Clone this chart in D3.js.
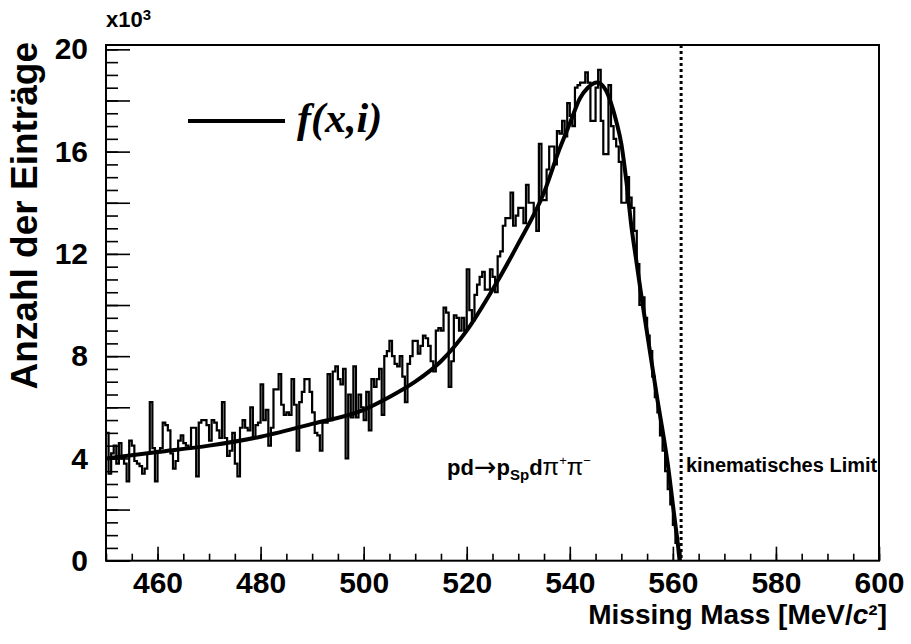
<!DOCTYPE html>
<html><head>
<meta charset="utf-8">
<script src="https://d3js.org/d3.v7.min.js"></script>
<style>
  body { margin: 0; background: #fff; }
  text { font-family: "Liberation Sans", Arial, sans-serif; font-weight: bold; fill: #000; }
</style>
</head>
<body>
<svg id="chart" width="911" height="644"></svg>
<script>
// histogram: 0.5 MeV bins starting at 450 MeV, counts in units of 10^3
const binStart = 450;
const binWidth = 0.5;
const counts = [
  5.0, 3.4, 4.2, 4.5, 3.8, 4.6, 4.0, 3.8, 3.1, 4.7,
  4.5, 3.9, 3.8, 3.7, 3.4, 3.6, 4.2, 6.2, 4.4, 3.1,
  4.3, 4.4, 5.4, 5.3, 5.1, 4.2, 3.6, 3.9, 4.7, 4.9,
  4.6, 4.5, 4.4, 5.2, 5.2, 3.3, 5.4, 5.5, 5.5, 5.3,
  4.7, 5.5, 5.4, 5.1, 4.8, 6.2, 4.8, 4.1, 4.3, 5.0,
  3.8, 3.3, 5.2, 5.5, 5.2, 5.1, 6.0, 4.8, 5.3, 5.4,
  6.9, 5.5, 5.9, 4.5, 5.2, 6.7, 6.7, 7.3, 6.1, 5.7,
  5.8, 5.7, 7.1, 6.1, 4.3, 6.2, 6.6, 7.1, 7.1, 6.6,
  5.8, 5.0, 4.9, 4.3, 5.4, 5.4, 7.3, 5.5, 7.4, 7.6,
  7.1, 6.9, 7.5, 4.0, 6.5, 5.6, 7.6, 5.6, 6.5, 6.0,
  5.5, 6.6, 5.1, 7.1, 6.8, 7.1, 7.5, 5.7, 8.0, 8.2,
  8.6, 8.0, 7.7, 7.6, 8.0, 7.2, 6.2, 7.7, 8.0, 8.6,
  8.6, 8.1, 8.4, 8.8, 8.7, 8.4, 7.8, 7.4, 9.0, 9.1,
  9.0, 9.9, 9.7, 6.8, 7.8, 9.6, 9.5, 9.0, 9.5, 9.0,
  11.4, 9.8, 9.4, 10.4, 10.8, 11.1, 11.3, 10.6, 10.6, 11.4,
  11.1, 10.5, 11.9, 12.1, 13.1, 13.4, 13.4, 14.4, 13.1, 13.5,
  13.8, 13.8, 13.2, 14.7, 14.0, 14.0, 13.6, 12.9, 16.3, 14.1,
  14.1, 15.3, 16.2, 16.2, 15.5, 16.8, 16.7, 17.2, 16.6, 17.9,
  17.4, 17.0, 18.5, 18.6, 18.7, 18.7, 19.1, 18.7, 17.2, 17.2,
  18.5, 19.2, 17.2, 15.9, 15.9, 18.6, 17.0, 16.5, 16.2, 15.6,
  14.0, 14.0, 15.0, 14.2, 13.8, 12.9, 11.6, 10.0, 10.3, 9.5,
  8.8, 8.2, 7.2, 6.4, 5.8, 4.9, 4.3, 3.5, 2.8, 2.2,
  1.4, 0.7, 0.3
];

// fit curve f(x,i)
const fitMass = [450, 460, 470, 480, 490, 500, 505, 510, 515, 520, 525, 530, 535, 538, 540, 542, 543.5, 545.3, 547, 548, 549, 550, 551, 552, 553, 554, 555, 556, 557, 558, 559, 560, 560.5, 561, 561.3];
const fitValue = [4.0, 4.25, 4.5, 4.85, 5.35, 5.9, 6.4, 7.0, 7.8, 9.0, 10.6, 12.4, 14.4, 16.1, 17.1, 18.1, 18.5, 18.7, 18.4, 17.9, 17.2, 16.3, 14.8, 13.0, 11.6, 10.2, 8.9, 7.6, 6.3, 5.1, 3.8, 2.2, 1.4, 0.6, 0];

const kinematicLimit = 561.6;
const xMajorTicks = [460, 480, 500, 520, 540, 560, 580, 600];
const yLabelTicks = [0, 4, 8, 12, 16, 20];

const svg = d3.select("#chart");

const x = d3.scaleLinear().domain([450, 600]).range([106, 879]);
const y = d3.scaleLinear().domain([0, 20.17]).range([560.7, 45]);

// axes (ticks point into the frame)
const xMinor = d3.range(450, 601, 5);
const yMinor = d3.range(0, 20.01, 0.5);
const yMajor = d3.range(0, 20.01, 2);

function styleAxis(g) {
  g.select(".domain").remove();
  g.selectAll("line").attr("stroke", "#000").attr("stroke-width", 1.6);
}

svg.append("g").attr("transform", "translate(0,560.7)")
   .call(d3.axisBottom(x).tickValues(xMinor).tickSize(-7).tickFormat(""))
   .call(styleAxis);
svg.append("g").attr("transform", "translate(0,560.7)")
   .call(d3.axisBottom(x).tickValues(xMajorTicks).tickSize(-14).tickPadding(11).tickFormat(d3.format("d")))
   .call(styleAxis)
   .selectAll("text").style("font-size", "30px").style("font-family", "Liberation Sans, Arial").style("font-weight", "bold");

svg.append("g").attr("transform", "translate(106,0)")
   .call(d3.axisLeft(y).tickValues(yMinor).tickSize(-12).tickFormat(""))
   .call(styleAxis);
svg.append("g").attr("transform", "translate(106,0)")
   .call(d3.axisLeft(y).tickValues(yMajor).tickSize(-24).tickPadding(18)
        .tickFormat(d => yLabelTicks.includes(Math.round(d)) ? d3.format("d")(d) : ""))
   .call(styleAxis)
   .selectAll("text").style("font-size", "30px").style("font-family", "Liberation Sans, Arial").style("font-weight", "bold");

// histogram as a step outline
const histPts = counts.map((c, i) => [binStart + i * binWidth, c]);
const lastEdge = binStart + counts.length * binWidth;
histPts.push([lastEdge, counts[counts.length - 1]]);
histPts.push([lastEdge, 0]);

svg.append("path")
   .datum(histPts)
   .attr("fill", "none")
   .attr("stroke", "#000")
   .attr("stroke-width", 2.2)
   .attr("d", d3.line().x(d => x(d[0])).y(d => y(d[1])).curve(d3.curveStepAfter));

// fit curve
svg.append("path")
   .datum(fitMass.map((m, i) => [m, fitValue[i]]))
   .attr("fill", "none")
   .attr("stroke", "#000")
   .attr("stroke-width", 4)
   .attr("d", d3.line().x(d => x(d[0])).y(d => y(d[1])).curve(d3.curveMonotoneX));

// kinematic limit
svg.append("line")
   .attr("x1", x(kinematicLimit)).attr("x2", x(kinematicLimit))
   .attr("y1", y.range()[1]).attr("y2", y.range()[0])
   .attr("stroke", "#000").attr("stroke-width", 3)
   .attr("stroke-dasharray", "3,3");

// frame
svg.append("rect")
   .attr("x", 106).attr("y", 45)
   .attr("width", 879 - 106).attr("height", 560.7 - 45)
   .attr("fill", "none").attr("stroke", "#000").attr("stroke-width", 2);

// exponent label
const ex = svg.append("text").attr("x", 106).attr("y", 27).style("font-size", "22px");
ex.append("tspan").text("x10");
ex.append("tspan").attr("dy", -7).style("font-size", "15px").text("3");

// axis titles
svg.append("text")
   .attr("transform", "translate(37,42) rotate(-90)")
   .attr("text-anchor", "end")
   .style("font-size", "37px")
   .text("Anzahl der Einträge");

const xt = svg.append("text")
   .attr("x", 887).attr("y", 624)
   .attr("text-anchor", "end")
   .style("font-size", "28px");
xt.append("tspan").text("Missing Mass [MeV/");
xt.append("tspan").style("font-style", "italic").text("c");
xt.append("tspan").text("²]");

// legend
svg.append("line")
   .attr("x1", 188).attr("x2", 285).attr("y1", 121).attr("y2", 121)
   .attr("stroke", "#000").attr("stroke-width", 4);
svg.append("text")
   .attr("x", 297).attr("y", 132)
   .style("font-family", "Liberation Serif, Times New Roman, serif")
   .style("font-style", "italic")
   .style("font-size", "42px")
   .text("f(x,i)");

// reaction label
const r = svg.append("text").attr("x", 447).attr("y", 475).style("font-size", "22px");
r.append("tspan").text("pd");
r.append("tspan").style("font-weight", "normal").style("font-family", "DejaVu Sans").style("font-size", "27px").attr("dy", 1).text("→");
r.append("tspan").attr("dy", -1).text("p");
r.append("tspan").attr("dy", 5).style("font-size", "15px").text("Sp");
r.append("tspan").attr("dy", -5).text("d");
r.append("tspan").style("font-weight", "normal").style("font-size", "24px").text("π");
r.append("tspan").attr("dy", -10).style("font-size", "13px").style("font-weight", "normal").text("+");
r.append("tspan").attr("dy", 10).style("font-weight", "normal").style("font-size", "24px").text("π");
r.append("tspan").attr("dy", -10).style("font-size", "13px").style("font-weight", "normal").text("−");

svg.append("text")
   .attr("x", 686).attr("y", 472)
   .style("font-size", "20px")
   .text("kinematisches Limit");
</script>
</body>
</html>
